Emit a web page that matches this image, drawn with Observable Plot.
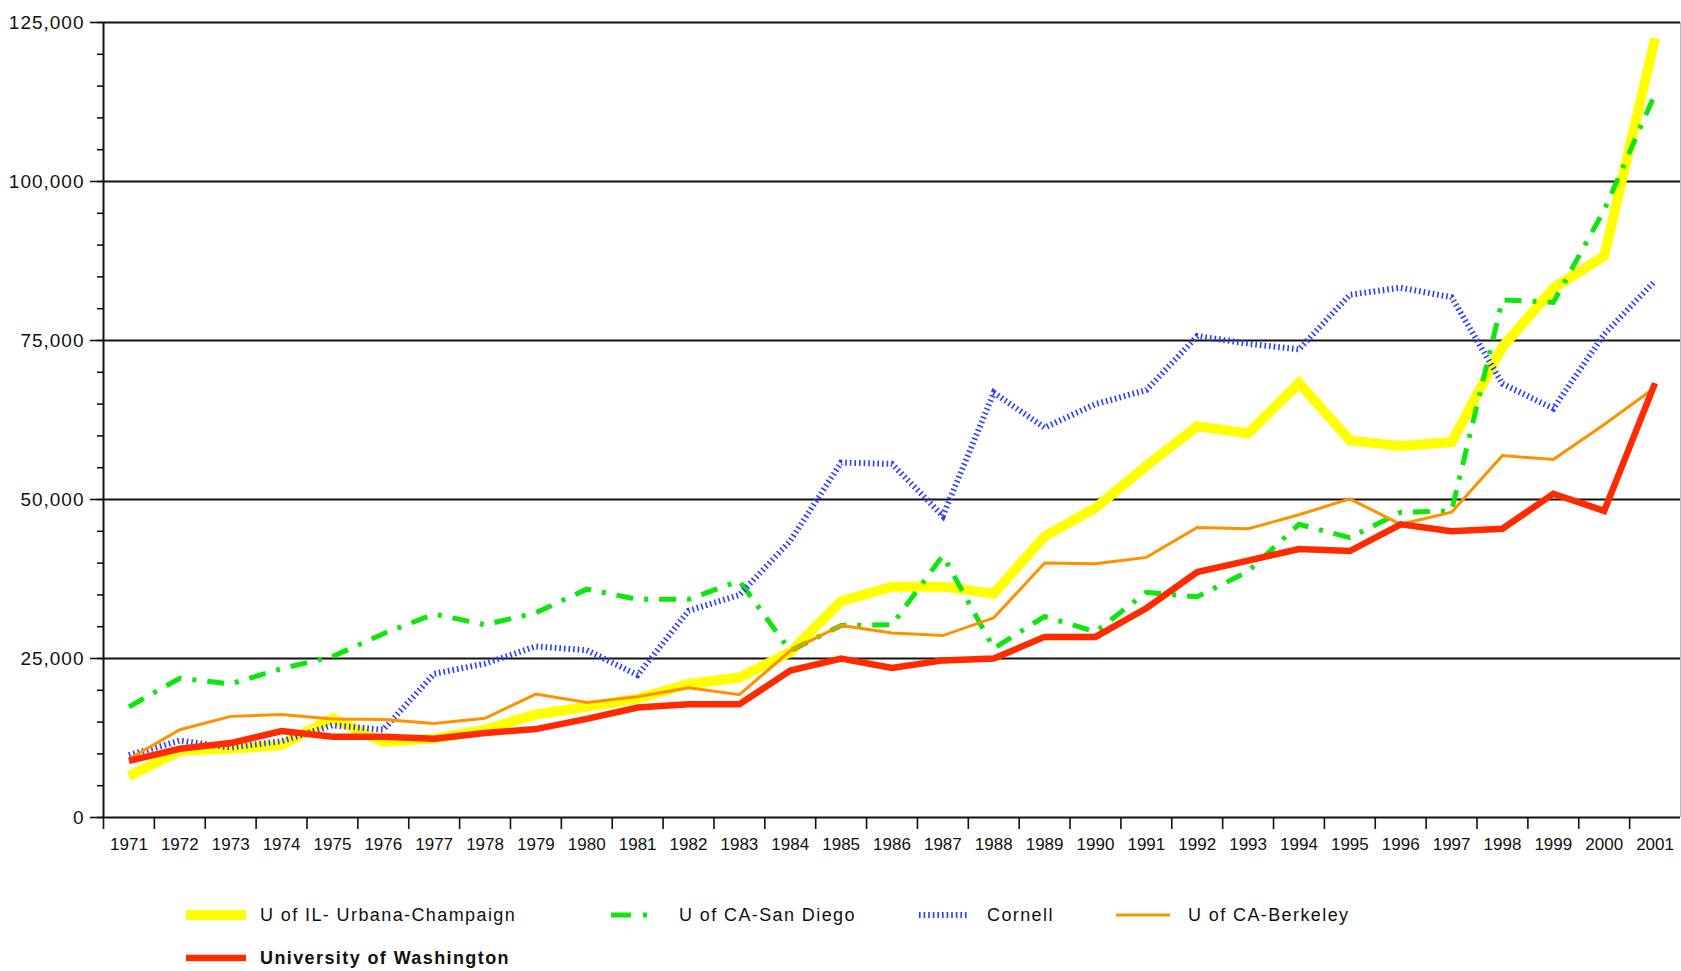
<!DOCTYPE html>
<html>
<head>
<meta charset="utf-8">
<script src="https://cdn.jsdelivr.net/npm/d3@7"></script>
<script src="https://cdn.jsdelivr.net/npm/@observablehq/plot@0.6"></script>
<style>
  html, body { margin: 0; padding: 0; background: #fff; }
  #wrap { position: relative; width: 1681px; height: 971px; overflow: hidden; background: #fff;
          font-family: "Liberation Sans", Arial, sans-serif; color: #111; }
  #chart svg { display: block; }
  .sw { position: absolute; transform: translateY(-50%); display: block; }
  .lt { position: absolute; transform: translateY(-50%); font-size: 18px; letter-spacing: 1.4px;
        white-space: nowrap; line-height: 1; }
</style>
</head>
<body>
<div id="wrap"><div id="chart"></div></div>
<script>
// ---- data ----
const years = [1971,1972,1973,1974,1975,1976,1977,1978,1979,1980,1981,1982,1983,1984,1985,1986,1987,1988,1989,1990,1991,1992,1993,1994,1995,1996,1997,1998,1999,2000,2001];
const illinois   = [6500,10500,10800,11400,15600,11900,12400,13800,16200,17400,18700,21000,22000,26000,34000,36300,36300,35200,44200,48700,55300,61500,60400,68300,59300,58400,59000,74000,83200,88300,122500];
const sanDiego   = [17400,21900,21000,23400,25300,28900,32000,30300,32200,35900,34300,34300,37200,26200,30200,30300,41200,26600,31600,29200,35400,34700,38700,46100,44000,48000,48200,81400,81000,95500,113800];
const cornell    = [9800,12100,11000,12000,14500,13800,22600,24200,26900,26300,22400,32500,35000,43500,55800,55600,47400,66800,61300,65000,67200,75700,74500,73600,82200,83300,81800,68200,64300,76000,84400];
const berkeley   = [9200,13800,15900,16200,15500,15400,14800,15600,19400,18100,19000,20400,19300,26200,30200,29000,28600,31400,40000,39900,40900,45600,45400,47600,50100,46100,48000,56900,56300,61800,67600];
const washington = [8900,10800,11700,13600,12700,12700,12400,13300,13900,15500,17300,17800,17800,23100,25000,23500,24700,25000,28400,28400,32900,38600,40400,42200,41900,46100,45000,45400,50900,48200,68300];

const seriesNames = ["U of IL- Urbana-Champaign", "U of CA-San Diego", "Cornell", "U of CA-Berkeley", "University of Washington"];
const yTicks = [0, 25000, 50000, 75000, 100000, 125000];
const yMinorTicks = d3.range(0, 125001, 5000);
const yearEdges = [1970.5].concat(years.slice(0, -1).map(y => y + 0.5));

// ---- styles ----
const styles = [
  {stroke: "#ffff00", strokeWidth: 10, dash: null},
  {stroke: "#0ee60e", strokeWidth: 5, dash: "17,11,4,11"},
  {stroke: "#2a3cff", strokeWidth: 6, dash: "1.6,3"},
  {stroke: "#ff9100", strokeWidth: 3, dash: null},
  {stroke: "#ff2a00", strokeWidth: 6.5, dash: null}
];
const allSeries = [illinois, sanDiego, cornell, berkeley, washington];
const tables = allSeries.map(vals => years.map((yr, i) => ({year: yr, value: vals[i]})));

const lineMarks = tables.map((t, k) => Plot.line(t, {
  x: "year", y: "value",
  stroke: styles[k].stroke, strokeWidth: styles[k].strokeWidth,
  strokeDasharray: styles[k].dash ?? undefined,
  strokeLinecap: "butt", strokeLinejoin: "miter", strokeMiterlimit: 3
}));

const chart = Plot.plot({
  width: 1681, height: 870,
  marginLeft: 103, marginRight: 1, marginTop: 22, marginBottom: 53,
  x: {domain: [1970.5, 2001.5], axis: null, label: null},
  y: {domain: [0, 125000], axis: null, label: null},
  style: {fontFamily: "'Liberation Sans', Arial, sans-serif", color: "#111", background: "#fff", overflow: "visible"},
  marks: [
    Plot.ruleX([2001.5], {stroke: "#bbb", strokeWidth: 1}),
    Plot.ruleY(yTicks, {stroke: "#111", strokeWidth: 2}),
    Plot.axisY({ticks: yMinorTicks, tickSize: 6, tickFormat: () => "", strokeWidth: 1.6, label: null}),
    Plot.axisY({ticks: yTicks, tickSize: 13, tickPadding: 6, tickFormat: d3.format(","), fontSize: 19, strokeWidth: 1.6, label: null}),
    Plot.axisX({ticks: yearEdges, tickSize: 12, tickFormat: () => "", strokeWidth: 1.6, label: null}),
    Plot.axisX({ticks: years, tickSize: 0, tickPadding: 20, tickFormat: d => String(d), fontSize: 17, label: null}),
    Plot.ruleX([1970.5], {stroke: "#111", strokeWidth: 2}),
    ...lineMarks
  ]
});
document.getElementById("chart").appendChild(chart);
d3.select(chart).selectAll('g[aria-label="y-axis tick label"] text').style("letter-spacing", "1px");

// ---- legend (HTML below the SVG area) ----
const legendItems = [
  {k: 0, sx: 186, sw: 60, tx: 260, cy: 915},
  {k: 1, sx: 611, sw: 40, tx: 679, cy: 915},
  {k: 2, sx: 919, sw: 48, tx: 987, cy: 915},
  {k: 3, sx: 1116, sw: 54, tx: 1188, cy: 915},
  {k: 4, sx: 186, sw: 60, tx: 260, cy: 958, bold: true}
];
const wrap = d3.select("#wrap");
legendItems.forEach(it => {
  const st = styles[it.k];
  const s = wrap.append("svg").attr("class", "sw")
    .style("left", it.sx + "px").style("top", it.cy + "px")
    .attr("width", it.sw).attr("height", 14);
  s.append("line").attr("x1", 0).attr("x2", it.sw).attr("y1", 7).attr("y2", 7)
    .attr("stroke", st.stroke).attr("stroke-width", st.strokeWidth)
    .attr("stroke-dasharray", it.k === 1 ? "20,12,4,12" : st.dash);
  wrap.append("div").attr("class", "lt")
    .style("left", it.tx + "px").style("top", it.cy + "px")
    .style("font-weight", it.bold ? "bold" : "normal")
    .text(seriesNames[it.k]);
});
</script>
</body>
</html>
